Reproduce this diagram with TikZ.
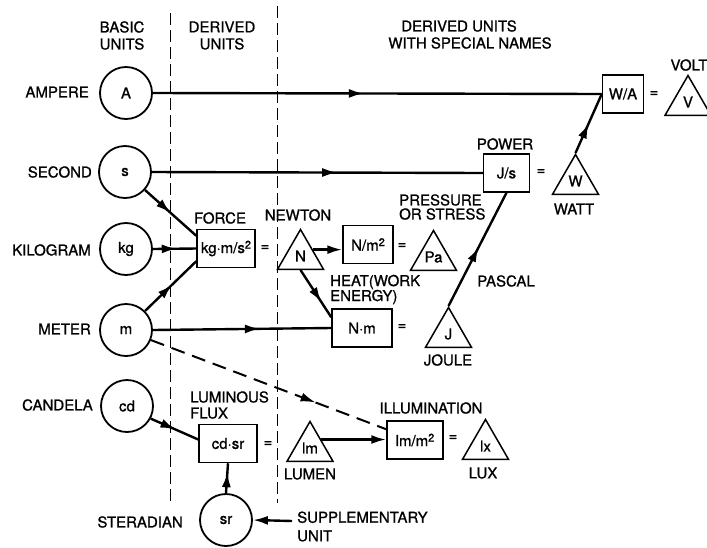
\documentclass[tikz,border=0pt]{standalone}
\usepackage{fontspec}
\setmainfont{TeX Gyre Heros}[FakeBold=1]
\usetikzlibrary{shapes.geometric,decorations.markings,arrows.meta,calc}
\newcommand{\sqsup}{\raisebox{4.5pt}{\fontsize{11}{11}\selectfont 2}}
\begin{document}
\begin{tikzpicture}[x=1pt,y=-1pt,
  every node/.style={font=\fontsize{15}{17}\selectfont, inner sep=0pt},
  unitcirc/.style={circle,draw,line width=1.8pt,minimum size=52pt},
  unitbox/.style={rectangle,draw,line width=1.5pt,minimum height=38pt},
  tri/.style={regular polygon,regular polygon sides=3,draw,line width=1.5pt,minimum size=53pt},
  lbl/.style={align=center},
  lblw/.style={align=left,anchor=west},
  conn/.style={line width=2.4pt},
  tip/.style={-{Latex[length=15pt,width=9pt]}},
  arr/.style={postaction={decorate,decoration={markings,mark=at position #1 with {\arrow{Latex[length=15pt,width=9pt]}}}}},
  divider/.style={line width=1pt,dash pattern=on 12pt off 5pt},
  dashconn/.style={line width=2pt,dash pattern=on 14pt off 8pt},
]
\useasboundingbox (0,0) rectangle (707,547);

% column dividers
\draw[divider] (170,13) -- (170,502);
\draw[divider] (277,6) -- (277,503);

% headers
\node[lbl] (h1) at (122,35.5) {BASIC\\UNITS};
\node[lbl] (h2) at (222,35.5) {DERIVED\\UNITS};
\node (h3a) at (459,26) {DERIVED UNITS};
\node (h3b) at (470,43) {WITH SPECIAL NAMES};

% base units
\node[unitcirc] (A) at (126,93) {A};
\node[unitcirc] (s) at (125,172) {s};
\node[unitcirc] (kg) at (126,249) {kg};
\node[unitcirc] (m) at (126,330) {m};
\node[unitcirc] (cd) at (127,406) {cd};
\node[unitcirc] (sr) at (226,520) {sr};

\node[anchor=east] (lA) at (89,92) {AMPERE};
\node[anchor=east] (ls) at (92,172) {SECOND};
\node[anchor=east] (lkg) at (91,250) {KILOGRAM};
\node[anchor=east] (lm) at (91,329) {METER};
\node[anchor=east] (lcd) at (93,405) {CANDELA};
\node[anchor=east] (lsr) at (183,522) {STERADIAN};

% derived unit boxes
\node[unitbox,minimum width=58pt] (force) at (226,248.5) {kg·m/s\sqsup};
\node[unitbox,minimum width=50pt] (Nm2) at (368,244.5) {N/m\sqsup};
\node[unitbox,minimum width=60pt] (Nm) at (362,328) {N·m};
\node[unitbox,minimum width=46pt] (Js) at (506.5,173) {J/s};
\node[unitbox,minimum width=41pt] (WA) at (623,94) {W/A};
\node[unitbox,minimum width=58pt] (cdsr) at (228,443.5) {cd·sr};
\node[unitbox,minimum width=56pt] (lmm2) at (415,440) {lm/m\sqsup};

% special names
\node[tri] (N) at (300.5,256) {N};
\node[tri] (Pa) at (433.5,257) {Pa};
\node[tri] (J) at (448.5,334) {J};
\node[tri] (W) at (575.5,181) {W};
\node[tri] (V) at (688,102) {V};
\node[tri] (lmT) at (310,448) {lm};
\node[tri] (lx) at (485.5,446) {lx};

% equals signs
\node (e1) at (265,248) {=};
\node (e2) at (402,246) {=};
\node (e3) at (402,327) {=};
\node (e4) at (541,172) {=};
\node (e5) at (654,94) {=};
\node (e6) at (268,444) {=};
\node (e7) at (453,438) {=};

% labels
\node (tforce) at (220,218) {FORCE};
\node (tnewton) at (298,215) {NEWTON};
\node[lblw,font=\fontsize{15}{14}\selectfont] (tpress) at (399,207) {PRESSURE\\OR STRESS};
\node[lblw,font=\fontsize{15}{15}\selectfont] (theat) at (330,289.5) {HEAT(WORK\\ENERGY)};
\node (tpascal) at (506,281) {PASCAL};
\node (tjoule) at (448,360) {JOULE};
\node (tpower) at (505,144) {POWER};
\node (twatt) at (574,209) {WATT};
\node (tvolt) at (689,65) {VOLT};
\node[lblw,font=\fontsize{15}{16}\selectfont] (tlumflux) at (190,405) {LUMINOUS\\FLUX};
\node (tlumen) at (310,474) {LUMEN};
\node (tillum) at (431,408) {ILLUMINATION};
\node (tlux) at (483,473) {LUX};
\node[lblw,font=\fontsize{15}{18.5}\selectfont] (tsupp) at (297,526.5) {SUPPLEMENTARY\\UNIT};

% connectors
\draw[conn,arr=0.47] (A.east) -- (WA.west);
\draw[conn,arr=0.56] (s.east) -- (Js.west);
\draw[conn,arr=0.5] (s.-42) -- ($(force.north west)+(0,7)$);
\draw[conn,arr=0.55] (kg.east) -- (force.west);
\draw[conn,arr=0.53] (m.45) -- ($(force.south west)+(0,-7)$);
\draw[conn,arr=0.6] (m.east) -- (Nm.west);
\draw[conn,tip] (N.27) -- (N.27 -| Nm2.west);
\draw[conn,arr=0.68] (N.south) -- ($(Nm.north west)+(0,9)$);
\draw[conn,arr=0.52] (J.corner 1) -- (Js.south);
\draw[conn,arr=0.5] (W.corner 1) -- (WA.west);
\draw[dashconn,arr=0.7] (m.-22) -- ($(lmm2.north west)+(0,9)$);
\draw[conn,arr=0.52] (cd.-28) -- ($(cdsr.west)+(0,-4)$);
\draw[conn,arr=0.7] (sr.north) -- (cdsr.south);
\draw[conn,tip] (lmT.37) -- (lmT.37 -| lmm2.west);
\coordinate (sup) at (292,521);
\draw[conn,tip] (sup) -- (sr.east);
\end{tikzpicture}
\end{document}
